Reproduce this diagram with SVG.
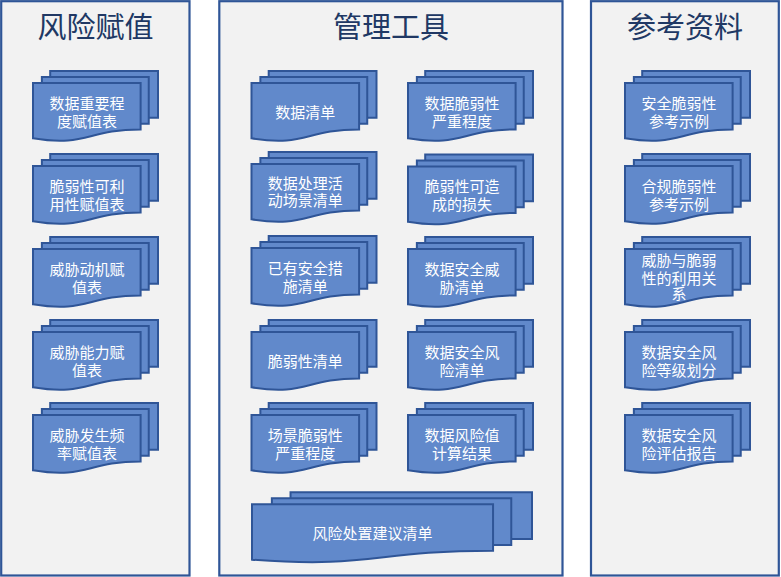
<svg xmlns="http://www.w3.org/2000/svg" xmlns:xlink="http://www.w3.org/1999/xlink" width="781" height="577" viewBox="0 0 781 577">
<style>
.panel{fill:#F2F2F2;stroke:#2F5597;stroke-width:2.2}
.title{font-family:"Noto Sans CJK SC","Microsoft YaHei",sans-serif;font-size:29px;fill:#203864;text-anchor:middle}
.pg{fill:#6189CB;stroke:#2F5597;stroke-width:2;stroke-linejoin:miter}
.lbl{font-family:"Noto Sans CJK SC","Microsoft YaHei",sans-serif;font-size:15px;fill:#FFFFFF;text-anchor:middle}
</style>
<defs>
<g id="md">
<path class="pg" d="M17.2,0 H125 V46.64 H17.2 Z"/>
<path class="pg" d="M8.87,5.88 H115.74 V52.67 H8.87 Z"/>
<path class="pg" d="M0,11.91 H107.61 V58.4 C53.81,58.4 53.81,76.29 0,67.35 Z"/>
</g>
<g id="mdw">
<path class="pg" d="M38.53,0 H280 V46.64 H38.53 Z"/>
<path class="pg" d="M19.86,5.88 H259.26 V52.67 H19.86 Z"/>
<path class="pg" d="M0,11.91 H241.05 V58.4 C120.53,58.4 120.53,76.29 0,67.35 Z"/>
</g>
</defs>
<rect width="781" height="577" fill="#FFFFFF"/>
<g id="panel-risk">
<rect class="panel" x="1.2" y="1.2" width="188.3" height="574.3"/>
<text class="title" x="95.5" y="37.5">风险赋值</text>
</g>
<g id="panel-tools">
<rect class="panel" x="219.3" y="1.2" width="343.2" height="574.3"/>
<text class="title" x="391" y="37.5">管理工具</text>
</g>
<g id="panel-ref">
<rect class="panel" x="591" y="1.2" width="187.8" height="574.3"/>
<text class="title" x="685" y="37.5">参考资料</text>
</g>
<g id="connectors"></g>

<g id="n-l1"><use xlink:href="#md" x="33" y="71"/><text class="lbl" x="87" y="108.5">数据重要程<tspan x="87" dy="18">度赋值表</tspan></text></g>
<g id="n-l2"><use xlink:href="#md" x="33" y="154"/><text class="lbl" x="87" y="191.5">脆弱性可利<tspan x="87" dy="18">用性赋值表</tspan></text></g>
<g id="n-l3"><use xlink:href="#md" x="33" y="237"/><text class="lbl" x="87" y="274.5">威胁动机赋<tspan x="87" dy="18">值表</tspan></text></g>
<g id="n-l4"><use xlink:href="#md" x="33" y="320"/><text class="lbl" x="87" y="357.5">威胁能力赋<tspan x="87" dy="18">值表</tspan></text></g>
<g id="n-l5"><use xlink:href="#md" x="33" y="403"/><text class="lbl" x="87" y="440.5">威胁发生频<tspan x="87" dy="18">率赋值表</tspan></text></g>

<g id="n-m1"><use xlink:href="#md" x="251.5" y="71"/><text class="lbl" x="305.3" y="117.5">数据清单</text></g>
<g id="n-m2"><use xlink:href="#md" x="251.5" y="152"/><text class="lbl" x="305.3" y="189">数据处理活<tspan x="305.3" dy="17">动场景清单</tspan></text></g>
<g id="n-m3"><use xlink:href="#md" x="251.5" y="236"/><text class="lbl" x="305.3" y="273.5">已有安全措<tspan x="305.3" dy="18">施清单</tspan></text></g>
<g id="n-m4"><use xlink:href="#md" x="251.5" y="320"/><text class="lbl" x="305.3" y="366.5">脆弱性清单</text></g>
<g id="n-m5"><use xlink:href="#md" x="251.5" y="403"/><text class="lbl" x="305.3" y="440.5">场景脆弱性<tspan x="305.3" dy="18">严重程度</tspan></text></g>

<g id="n-r1"><use xlink:href="#md" x="408" y="71"/><text class="lbl" x="462" y="108.5">数据脆弱性<tspan x="462" dy="18">严重程度</tspan></text></g>
<g id="n-r2"><use xlink:href="#md" x="408" y="154.5"/><text class="lbl" x="462" y="192">脆弱性可造<tspan x="462" dy="18">成的损失</tspan></text></g>
<g id="n-r3"><use xlink:href="#md" x="408" y="237"/><text class="lbl" x="462" y="274.5">数据安全威<tspan x="462" dy="18">胁清单</tspan></text></g>
<g id="n-r4"><use xlink:href="#md" x="408" y="320"/><text class="lbl" x="462" y="357.5">数据安全风<tspan x="462" dy="18">险清单</tspan></text></g>
<g id="n-r5"><use xlink:href="#md" x="408" y="403"/><text class="lbl" x="462" y="440.5">数据风险值<tspan x="462" dy="18">计算结果</tspan></text></g>

<g id="n-m6"><use xlink:href="#mdw" x="252" y="492.3"/><text class="lbl" x="372.5" y="538.8">风险处置建议清单</text></g>

<g id="n-c1"><use xlink:href="#md" x="625" y="71"/><text class="lbl" x="679" y="108.5">安全脆弱性<tspan x="679" dy="18">参考示例</tspan></text></g>
<g id="n-c2"><use xlink:href="#md" x="625" y="154"/><text class="lbl" x="679" y="191.5">合规脆弱性<tspan x="679" dy="18">参考示例</tspan></text></g>
<g id="n-c3"><use xlink:href="#md" x="625" y="237"/><text class="lbl" x="679" y="266">威胁与脆弱<tspan x="679" dy="17.5">性的利用关</tspan><tspan x="679" dy="15.5">系</tspan></text></g>
<g id="n-c4"><use xlink:href="#md" x="625" y="320"/><text class="lbl" x="679" y="357.5">数据安全风<tspan x="679" dy="18">险等级划分</tspan></text></g>
<g id="n-c5"><use xlink:href="#md" x="625" y="403"/><text class="lbl" x="679" y="440.5">数据安全风<tspan x="679" dy="18">险评估报告</tspan></text></g>
</svg>
